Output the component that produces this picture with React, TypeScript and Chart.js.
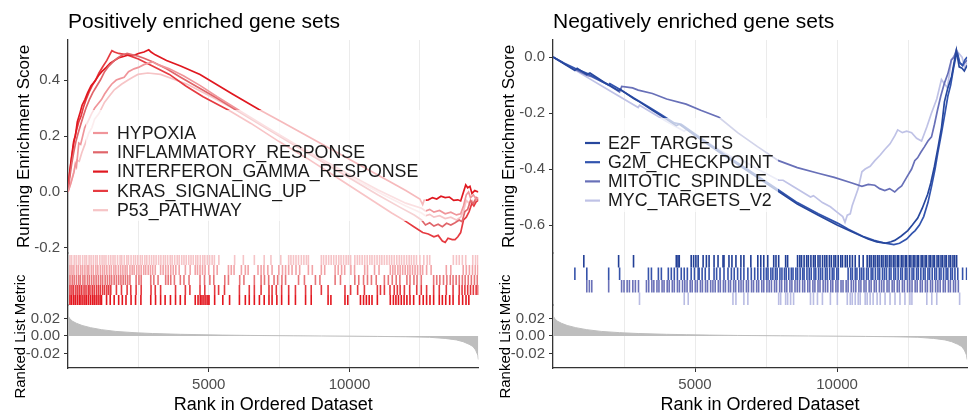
import React, { useEffect, useRef } from "react";
import { Chart, registerables } from "chart.js";

Chart.register(...registerables);

const FONT = "'Liberation Sans', Arial, Helvetica, sans-serif";

// ---------- shared axis data ----------
const X_MAX = 14580;
const X_GRID = [2500, 5000, 7500, 10000, 12500];
const X_LABELED = [5000, 10000];
const METRIC_TICKS = [-0.02, 0, 0.02];
const ES_TICKS_POS = [-0.2, 0, 0.2, 0.4];
const ES_TICKS_NEG = [-0.6, -0.4, -0.2, 0];

// ranked list metric [rank, value]
const METRIC: [number, number][] = [
  [0, 0.023], [60, 0.02], [150, 0.017], [300, 0.0145], [500, 0.012], [800, 0.0095],
  [1190, 0.0072], [1700, 0.0052], [2345, 0.0038], [3000, 0.0028], [4000, 0.0019],
  [4690, 0.0015], [5500, 0.001], [6500, 0.0006], [8000, 0.0002], [9000, 0.0],
  [10000, -0.0002], [11000, -0.0005], [12000, -0.0009], [12845, -0.0015],
  [13400, -0.0028], [13800, -0.0045], [14035, -0.0065], [14250, -0.0095],
  [14385, -0.012], [14480, -0.016], [14560, -0.022], [14580, -0.027],
];

// ---------- positively enriched sets ----------
const POS_NAMES = ["HYPOXIA", "INFLAMMATORY_RESPONSE", "INTERFERON_GAMMA_RESPONSE", "KRAS_SIGNALING_UP", "P53_PATHWAY"];
const POS_COLORS = ["#F0959A", "#E0666B", "#E01820", "#E63B41", "#F6C4C6"];

const ES_HYPOXIA: [number, number][] = [
  [0, 0], [100, 0.03], [210, 0.07], [260, 0.1], [300, 0.09], [385, 0.175], [450, 0.17], [595, 0.23],
  [700, 0.25], [840, 0.28], [950, 0.3], [1190, 0.33], [1300, 0.35], [1435, 0.37], [1550, 0.385],
  [1715, 0.4], [1850, 0.405], [1995, 0.41], [2150, 0.43], [2345, 0.44], [2500, 0.445], [2695, 0.455],
  [2850, 0.46], [3010, 0.465], [3200, 0.455], [3600, 0.44], [4100, 0.415], [4700, 0.38], [5300, 0.34],
  [6100, 0.29], [7000, 0.235], [8000, 0.175], [9000, 0.118], [10000, 0.062], [11000, 0.008],
  [12000, -0.04], [12560, -0.058], [12700, -0.068], [12850, -0.062], [13000, -0.072], [13200, -0.066],
  [13400, -0.078], [13600, -0.072], [13800, -0.082], [13950, -0.078], [14050, -0.05], [14150, -0.01],
  [14230, 0.0], [14300, -0.02], [14400, -0.01], [14500, -0.025], [14580, -0.02],
];
const ES_INFLAMMATORY: [number, number][] = [
  [0, 0], [60, 0.05], [130, 0.1], [200, 0.14], [280, 0.18], [360, 0.21], [450, 0.24], [540, 0.27],
  [640, 0.3], [760, 0.33], [880, 0.355], [1000, 0.375], [1150, 0.4], [1300, 0.43], [1450, 0.45],
  [1600, 0.465], [1750, 0.478], [1900, 0.488], [2100, 0.495], [2300, 0.49], [2500, 0.485],
  [2700, 0.478], [3000, 0.465], [3500, 0.44], [4000, 0.41], [4600, 0.375], [5300, 0.335],
  [6100, 0.285], [7000, 0.23], [8000, 0.17], [9000, 0.11], [10000, 0.05], [11000, -0.01],
  [11800, -0.055], [12300, -0.082], [12560, -0.1], [12700, -0.118], [12850, -0.11], [13000, -0.122],
  [13150, -0.115], [13300, -0.124], [13450, -0.112], [13600, -0.118], [13750, -0.11], [13900, -0.1],
  [14000, -0.106], [14100, -0.07], [14200, -0.062], [14300, -0.03], [14400, -0.042], [14500, -0.02],
  [14580, -0.03],
];
const ES_INTERFERON: [number, number][] = [
  [0, 0], [60, 0.07], [120, 0.12], [200, 0.18], [260, 0.2], [330, 0.25], [420, 0.28], [500, 0.31],
  [600, 0.33], [700, 0.355], [820, 0.38], [950, 0.395], [1080, 0.415], [1200, 0.43], [1360, 0.445],
  [1500, 0.46], [1650, 0.47], [1820, 0.48], [2000, 0.485], [2150, 0.49], [2350, 0.488], [2500, 0.495],
  [2700, 0.5], [2870, 0.508], [2950, 0.5], [3100, 0.49], [3500, 0.47], [4000, 0.45], [4690, 0.42],
  [5840, 0.35], [6785, 0.295], [7600, 0.25], [8500, 0.2], [9400, 0.15], [10300, 0.1], [11200, 0.05],
  [12000, 0.005], [12500, -0.025], [12600, -0.045], [12650, -0.03], [12800, -0.028], [12950, -0.02],
  [13100, -0.025], [13250, -0.015], [13400, -0.02], [13550, -0.018], [13700, -0.03], [13850, -0.028],
  [13950, -0.032], [14050, 0.0], [14130, 0.025], [14200, 0.015], [14280, 0.02], [14350, -0.005],
  [14450, 0.005], [14580, 0.0],
];
const ES_KRAS: [number, number][] = [
  [0, 0], [50, 0.06], [100, 0.1], [170, 0.15], [230, 0.19], [300, 0.22], [380, 0.25], [460, 0.27],
  [540, 0.3], [640, 0.33], [740, 0.355], [860, 0.38], [980, 0.4], [1100, 0.425], [1250, 0.45],
  [1380, 0.47], [1480, 0.49], [1560, 0.505], [1650, 0.5], [1800, 0.495], [2100, 0.49], [2500, 0.475],
  [3000, 0.45], [3600, 0.42], [4200, 0.378], [4800, 0.34], [5740, 0.29], [6500, 0.245], [7500, 0.18],
  [8500, 0.12], [9500, 0.055], [10500, -0.01], [11500, -0.075], [12000, -0.105], [12300, -0.125],
  [12600, -0.145], [12800, -0.15], [13000, -0.16], [13150, -0.155], [13300, -0.175], [13400, -0.18],
  [13500, -0.165], [13650, -0.17], [13750, -0.17], [13850, -0.16], [13950, -0.145], [14050, -0.1],
  [14150, -0.09], [14250, -0.07], [14350, -0.04], [14420, -0.05], [14500, -0.035], [14580, -0.03],
];
const ES_P53: [number, number][] = [
  [0, 0], [150, 0.05], [315, 0.114], [400, 0.11], [490, 0.14], [600, 0.17], [735, 0.21], [850, 0.23],
  [945, 0.26], [1100, 0.28], [1295, 0.32], [1450, 0.34], [1645, 0.365], [1900, 0.385], [2135, 0.4],
  [2300, 0.41], [2485, 0.42], [2835, 0.425], [3290, 0.42], [4235, 0.385], [5200, 0.335], [6200, 0.28],
  [7200, 0.22], [8200, 0.16], [9200, 0.1], [10200, 0.045], [11200, -0.01], [12000, -0.05],
  [12560, -0.075], [12700, -0.085], [12850, -0.08], [13000, -0.09], [13200, -0.085], [13400, -0.095],
  [13600, -0.09], [13800, -0.1], [13950, -0.09], [14050, -0.07], [14150, -0.03], [14250, -0.04],
  [14350, -0.03], [14450, -0.04], [14580, -0.02],
];

// hit positions (ranks), one list per row
const HITS_P53 = [70, 130, 220, 290, 370, 430, 520, 600, 660, 750, 820, 900, 980, 1040, 1130, 1210, 1280, 1350, 1440, 1520, 1600, 1670, 1760, 1850, 1910, 2000, 2090, 2150, 2240, 2330, 2400, 2480, 2570, 2640, 2730, 2800, 2890, 2970, 3050, 3130, 3220, 3300, 3390, 3460, 3540, 3630, 3700, 3790, 3880, 3950, 4040, 4120, 4200, 4290, 4370, 4450, 4540, 4610, 4700, 4790, 4860, 4950, 5030, 5120, 5200, 5360, 5920, 6230, 6620, 6970, 7210, 7560, 7840, 7920, 8010, 8100, 8190, 8290, 8380, 8470, 8540, 9000, 9080, 9170, 9260, 9350, 9440, 9530, 9620, 9700, 9790, 9880, 9960, 10040, 10190, 10280, 10360, 10450, 10540, 10630, 10720, 10800, 10890, 10980, 11070, 11150, 11240, 11330, 11420, 11500, 11590, 11680, 11770, 11850, 11940, 12030, 12120, 12200, 12290, 12380, 12500, 12640, 12760, 12850, 13690, 13800, 13900, 14010, 14130, 14380, 14480, 14560];
const HITS_HYPOXIA = [70, 140, 210, 300, 370, 450, 520, 600, 680, 740, 830, 900, 990, 1060, 1150, 1230, 1300, 1380, 1470, 1540, 1630, 1700, 1790, 1870, 1950, 2030, 2100, 2200, 2280, 2350, 2440, 2520, 2600, 2690, 2760, 2850, 2930, 3010, 3100, 3290, 3380, 3470, 3560, 3650, 3740, 3830, 3950, 4170, 4340, 4520, 4600, 4690, 4780, 4870, 5000, 5180, 5300, 5700, 5800, 5900, 6160, 6300, 6400, 6750, 6860, 6960, 7100, 7250, 7490, 7620, 7730, 7840, 7960, 8100, 8230, 8540, 8680, 9000, 9120, 9490, 9600, 9720, 9830, 10050, 10180, 10540, 10640, 10890, 11050, 11450, 11540, 11620, 11720, 11800, 11890, 11980, 12070, 12150, 12240, 12330, 12420, 12520, 12600, 12740, 12900, 13440, 13600, 14040, 14150, 14260, 14370, 14470, 14560];
const HITS_INFLAMMATORY = [70, 150, 220, 300, 380, 440, 530, 600, 690, 760, 840, 920, 1000, 1080, 1160, 1230, 1320, 1400, 1480, 1550, 1640, 1720, 1800, 1880, 1960, 2040, 2120, 2200, 2420, 2520, 2600, 2940, 3050, 3200, 3470, 3560, 3650, 3780, 3990, 4120, 4300, 4690, 4850, 5040, 5180, 5570, 5700, 6100, 6250, 6620, 6860, 6980, 7130, 7320, 7450, 7600, 7730, 8190, 8400, 8790, 8950, 9490, 9680, 10190, 10330, 10500, 10640, 10780, 10950, 11240, 11380, 11520, 11660, 11790, 12040, 12150, 12290, 12400, 12550, 12990, 13100, 13210, 13340, 13460, 13580, 13680, 13790, 13900, 14010, 14110, 14220, 14330, 14440, 14540];
const HITS_KRAS = [70, 140, 200, 280, 350, 420, 490, 570, 640, 720, 780, 860, 930, 1010, 1080, 1150, 1230, 1300, 1380, 1450, 1520, 1720, 1900, 2100, 2230, 2420, 2600, 2950, 3100, 3290, 3820, 4170, 4330, 4690, 4860, 5210, 5350, 5560, 6090, 6440, 6620, 6860, 7140, 7250, 7400, 7590, 7840, 8080, 8440, 8640, 9000, 9240, 9840, 10040, 10290, 10530, 10990, 11100, 11240, 11440, 11590, 11700, 11800, 11950, 12140, 12390, 12550, 12740, 12990, 13190, 13440, 13680, 13900, 14000, 14100, 14200, 14300, 14400, 14500, 14570];
const HITS_INTERFERON = [70, 130, 200, 260, 330, 400, 460, 530, 600, 660, 730, 800, 870, 930, 1000, 1070, 1140, 1190, 1370, 1500, 1640, 1800, 1930, 2060, 2240, 2400, 2590, 2940, 3110, 3290, 3450, 3640, 3820, 3990, 4160, 4520, 4620, 4700, 4760, 4830, 4900, 4970, 5010, 5210, 5500, 5740, 6090, 6300, 6440, 6620, 6800, 6970, 7140, 7250, 7420, 7590, 7840, 8080, 8440, 8640, 9240, 9340, 9840, 9940, 10390, 10500, 10600, 10700, 10800, 10990, 11450, 11560, 11650, 11740, 11840, 11940, 12040, 12150, 12280, 12490, 12620, 12740, 12860, 12990, 13190, 13300, 13420, 13560, 13680, 13890, 14020, 14140, 14240];

// ---------- negatively enriched sets ----------
const NEG_NAMES = ["E2F_TARGETS", "G2M_CHECKPOINT", "MITOTIC_SPINDLE", "MYC_TARGETS_V2"];
const NEG_COLORS = ["#27479D", "#3254AE", "#6870B8", "#BFC2E6"];

const ES_E2F: [number, number][] = [
  [0, 0], [400, -0.025], [770, -0.048], [850, -0.04], [1190, -0.062], [1300, -0.057], [1800, -0.09],
  [2310, -0.12], [2360, -0.115], [2840, -0.148], [3045, -0.16], [3500, -0.19], [3810, -0.21],
  [4340, -0.245], [4450, -0.24], [5000, -0.28], [5500, -0.315], [6000, -0.35], [6600, -0.39],
  [7200, -0.43], [7940, -0.48], [8600, -0.525], [9340, -0.565], [10000, -0.6], [10540, -0.625],
  [11090, -0.65], [11400, -0.66], [11690, -0.665], [11900, -0.66], [12030, -0.655], [12250, -0.64],
  [12490, -0.62], [12650, -0.6], [12840, -0.575], [13000, -0.54], [13190, -0.49], [13300, -0.45],
  [13430, -0.39], [13560, -0.32], [13680, -0.25], [13780, -0.16], [13900, -0.11], [14030, -0.07],
  [14120, -0.02], [14200, 0.025], [14300, -0.035], [14400, -0.04], [14480, -0.05], [14580, -0.03],
];
const ES_G2M: [number, number][] = [
  [0, 0], [400, -0.022], [770, -0.04], [1190, -0.058], [1960, -0.1], [2000, -0.095], [2345, -0.115],
  [2900, -0.15], [3400, -0.18], [3800, -0.205], [4270, -0.235], [4515, -0.24], [5000, -0.275],
  [5500, -0.31], [6000, -0.345], [6600, -0.385], [7200, -0.425], [7940, -0.475], [8600, -0.52],
  [9340, -0.56], [10050, -0.595], [10400, -0.615], [10900, -0.64], [11300, -0.655], [11700, -0.665],
  [12000, -0.67], [12200, -0.665], [12450, -0.65], [12640, -0.63], [12750, -0.62], [12900, -0.6],
  [13050, -0.57], [13200, -0.52], [13330, -0.46], [13450, -0.4], [13550, -0.34], [13680, -0.27],
  [13800, -0.2], [13900, -0.14], [14000, -0.1], [14100, -0.04], [14180, 0.0], [14250, 0.01],
  [14320, -0.02], [14420, -0.03], [14500, -0.01], [14580, 0.0],
];
const ES_MITOTIC: [number, number][] = [
  [0, 0], [600, -0.035], [1190, -0.065], [1365, -0.07], [1960, -0.1], [2343, -0.125], [2420, -0.105],
  [2800, -0.11], [3000, -0.118], [3500, -0.13], [4000, -0.15], [4686, -0.168], [5200, -0.19],
  [5840, -0.215], [6500, -0.27], [7200, -0.32], [7938, -0.37], [8600, -0.395], [9337, -0.415],
  [9900, -0.43], [10525, -0.45], [10875, -0.462], [11100, -0.455], [11330, -0.458], [11500, -0.47],
  [11680, -0.477], [11850, -0.47], [12030, -0.482], [12150, -0.47], [12275, -0.46], [12450, -0.43],
  [12625, -0.4], [12735, -0.37], [12835, -0.36], [12950, -0.34], [13080, -0.32], [13200, -0.3],
  [13325, -0.285], [13430, -0.24], [13535, -0.19], [13650, -0.14], [13780, -0.093], [13900, -0.06],
  [14025, -0.01], [14120, 0.0], [14200, 0.025], [14300, -0.02], [14420, -0.03], [14580, -0.01],
];
const ES_MYC: [number, number][] = [
  [0, 0], [1000, -0.06], [2000, -0.12], [3000, -0.18], [3045, -0.172], [4000, -0.23], [4620, -0.265],
  [4700, -0.258], [5500, -0.31], [6335, -0.36], [6450, -0.355], [6860, -0.38], [7200, -0.4],
  [7945, -0.44], [8100, -0.44], [8500, -0.465], [9065, -0.5], [9170, -0.495], [9485, -0.52],
  [9765, -0.535], [10010, -0.555], [10200, -0.57], [10280, -0.59], [10360, -0.565], [10465, -0.56],
  [10535, -0.53], [10640, -0.5], [10745, -0.47], [10875, -0.41], [10990, -0.4], [11165, -0.39],
  [11330, -0.37], [11520, -0.35], [11680, -0.33], [11865, -0.31], [12040, -0.28], [12135, -0.26],
  [12300, -0.27], [12450, -0.265], [12625, -0.27], [12800, -0.29], [12975, -0.3], [13160, -0.25],
  [13325, -0.2], [13510, -0.15], [13675, -0.08], [13885, -0.11], [14025, -0.01], [14230, 0.02],
  [14400, 0.0], [14450, -0.02], [14500, -0.04], [14580, -0.02],
];

const HITS_E2F = [1085, 2310, 2835, 4340, 4400, 4445, 4865, 4950, 5030, 5110, 5285, 5400, 5495, 5670, 5810, 5985, 6020, 6195, 6300, 6440, 6615, 6720, 6965, 7210, 7315, 7420, 7560, 7770, 7850, 7945, 8190, 8260, 8610, 8690, 8750, 8840, 8930, 8990, 9080, 9170, 9230, 9330, 9400, 9490, 9570, 9640, 9730, 9800, 9890, 9950, 10040, 10130, 10190, 10290, 10360, 10450, 10540, 10640, 10780, 10920, 11060, 11140, 11200, 11280, 11340, 11420, 11480, 11560, 11620, 11700, 11760, 11840, 11900, 11980, 12040, 12120, 12170, 12260, 12320, 12400, 12450, 12540, 12600, 12680, 12740, 12820, 12870, 12960, 13020, 13100, 13150, 13240, 13300, 13380, 13430, 13520, 13580, 13660, 13720, 13800, 13850, 13940, 14000, 14080, 14140, 14210];
const HITS_G2M = [770, 1190, 1960, 2345, 3360, 3465, 3710, 3815, 4060, 4165, 4270, 4380, 4515, 4620, 4730, 4865, 4980, 5110, 5145, 5250, 5360, 5495, 5670, 5760, 5880, 6020, 6160, 6280, 6380, 6500, 6610, 6720, 6860, 6980, 7100, 7210, 7315, 7420, 7510, 7570, 7670, 7740, 7830, 7890, 7990, 8060, 8150, 8210, 8300, 8390, 8450, 8550, 8610, 8700, 8790, 8840, 8940, 9020, 9090, 9190, 9250, 9350, 9420, 9490, 9590, 9650, 9740, 9830, 9890, 9990, 10045, 10390, 10480, 10540, 10640, 10700, 10800, 10870, 10940, 11040, 11100, 11200, 11260, 11350, 11440, 11500, 11600, 11670, 11740, 11840, 11900, 12000, 12060, 12150, 12240, 12300, 12400, 12460, 12550, 12640, 12700, 12800, 12860, 12950, 13040, 13100, 13200, 13260, 13350, 13440, 13500, 13600, 13660, 13750, 13840, 13900, 14000, 14060, 14150, 14250, 14420, 14560];
const HITS_MITOTIC = [1190, 1280, 1365, 1960, 2415, 2500, 2610, 2690, 2810, 2900, 3010, 3290, 3370, 3480, 3550, 3660, 3730, 3840, 3910, 4020, 4090, 4200, 4270, 4380, 4450, 4560, 4640, 4720, 4830, 4900, 5010, 5080, 5190, 5260, 5370, 5440, 5550, 5630, 5710, 5820, 5890, 6000, 6070, 6180, 6250, 6360, 6430, 6540, 6620, 6700, 6810, 6880, 6990, 7060, 7170, 7240, 7350, 7420, 7530, 7610, 7690, 7800, 7870, 7980, 8050, 8160, 8230, 8340, 8410, 8520, 8600, 8680, 8790, 8860, 8970, 9040, 9150, 9220, 9330, 9400, 9510, 9590, 9670, 9780, 9850, 9960, 10030, 10140, 10210, 10320, 10390, 10500, 10580, 10660, 10770, 10840, 10950, 11020, 11130, 11200, 11310, 11380, 11490, 11570, 11650, 11760, 11830, 11940, 12010, 12120, 12190, 12300, 12370, 12480, 12560, 12640, 12750, 12820, 12930, 13000, 13110, 13180, 13290, 13360, 13470, 13550, 13630, 13740, 13810, 13920, 13990, 14100, 14170, 14270];
const HITS_MYC = [3045, 4620, 4760, 6335, 6440, 6720, 6860, 7945, 8015, 8190, 8260, 8365, 8470, 9065, 9170, 9310, 9485, 9765, 10010, 10360, 10465, 10535, 10640, 10745, 10815, 10990, 11060, 11165, 11270, 11410, 11520, 11690, 11865, 12040, 12215, 12390, 12565, 12635, 13160, 13335, 13510, 14315];

type Pair = [number, number];
interface SetSpec { name: string; color: string; es: Pair[]; hits: number[]; row: number; hitColor: string; }
interface PanelSpec {
  title: string; sets: SetSpec[]; esMin: number; esMax: number; esTicks: number[];
  hitMax: number; hitRadius: number; padRight: number;
  legend: { x: number; y: number; w: number; h: number; keyX: number; keyW: number; textX: number; firstY: number; rowH: number; size: number };
}

const toXY = (pairs: Pair[]) => pairs.map(([x, y]) => ({ x, y }));

const POS_PANEL: PanelSpec = {
  title: "Positively enriched gene sets",
  sets: [
    { name: POS_NAMES[0], color: POS_COLORS[0], es: ES_HYPOXIA, hits: HITS_HYPOXIA, row: 3.5, hitColor: "#F2A3A7" },
    { name: POS_NAMES[1], color: POS_COLORS[1], es: ES_INFLAMMATORY, hits: HITS_INFLAMMATORY, row: 2.5, hitColor: "#E8767A" },
    { name: POS_NAMES[2], color: POS_COLORS[2], es: ES_INTERFERON, hits: HITS_INTERFERON, row: 0.5, hitColor: "#E3161E" },
    { name: POS_NAMES[3], color: POS_COLORS[3], es: ES_KRAS, hits: HITS_KRAS, row: 1.5, hitColor: "#E5393F" },
    { name: POS_NAMES[4], color: POS_COLORS[4], es: ES_P53, hits: HITS_P53, row: 4.5, hitColor: "#F6C4C7" },
  ],
  esMin: -0.218, esMax: 0.543, esTicks: ES_TICKS_POS,
  hitMax: 5.2, hitRadius: 5, padRight: 2,
  legend: { x: 86, y: 110, w: 340, h: 111, keyX: 93, keyW: 15, textX: 117, firstY: 133, rowH: 19.3, size: 17.8 },
};

const NEG_PANEL: PanelSpec = {
  title: "Negatively enriched gene sets",
  sets: [
    { name: NEG_NAMES[0], color: NEG_COLORS[0], es: ES_E2F, hits: HITS_E2F, row: 3.5, hitColor: "#223F96" },
    { name: NEG_NAMES[1], color: NEG_COLORS[1], es: ES_G2M, hits: HITS_G2M, row: 2.5, hitColor: "#3653AA" },
    { name: NEG_NAMES[2], color: NEG_COLORS[2], es: ES_MITOTIC, hits: HITS_MITOTIC, row: 1.5, hitColor: "#6A71B8" },
    { name: NEG_NAMES[3], color: NEG_COLORS[3], es: ES_MYC, hits: HITS_MYC, row: 0.5, hitColor: "#B9BCE3" },
  ],
  esMin: -0.7, esMax: 0.061, esTicks: ES_TICKS_NEG,
  hitMax: 4.16, hitRadius: 6.25, padRight: 7,
  legend: { x: 93, y: 118, w: 200, h: 94, keyX: 100, keyW: 15, textX: 123, firstY: 143, rowH: 19.2, size: 17.8 },
};

const decorPlugin = {
  id: "panelDecor",
  afterDatasetsDraw(chart: any, _args: any, opts: any) {
    const ctx = chart.ctx;
    const lg = opts.legend;
    ctx.save();
    ctx.fillStyle = "rgba(255,255,255,0.7)";
    ctx.fillRect(lg.x, lg.y, lg.w, lg.h);
    ctx.font = `${lg.size}px ${FONT}`;
    ctx.textBaseline = "middle";
    ctx.textAlign = "left";
    const items = chart.data.datasets.filter((d: any) => d.yAxisID === "yES");
    items.forEach((d: any, i: number) => {
      const y = lg.firstY + i * lg.rowH;
      ctx.strokeStyle = d.borderColor;
      ctx.lineWidth = 2.2;
      ctx.beginPath();
      ctx.moveTo(lg.keyX, y);
      ctx.lineTo(lg.keyX + lg.keyW, y);
      ctx.stroke();
      ctx.fillStyle = "#1A1A1A";
      ctx.fillText(d.label, lg.textX, y + 1);
    });
    ctx.fillStyle = "#000";
    ctx.font = `21px ${FONT}`;
    ctx.fillText(opts.title, chart.chartArea.left, opts.titleY);
    ctx.restore();
  },
};

function buildConfig(p: PanelSpec): any {
  const esSets = p.sets.map((s) => ({
    type: "line", label: s.name, data: toXY(s.es), borderColor: s.color, backgroundColor: s.color,
    borderWidth: 1.7, pointRadius: 0, fill: false, tension: 0, yAxisID: "yES", xAxisID: "x",
  }));
  const hitSets = p.sets.map((s) => ({
    type: "line", label: s.name + " hits", data: s.hits.map((r) => ({ x: r, y: s.row })), showLine: false,
    pointStyle: "line", pointRotation: 90, pointRadius: p.hitRadius, pointBorderColor: s.hitColor,
    pointBorderWidth: 1.6, borderColor: s.hitColor, yAxisID: "yHit", xAxisID: "x",
  }));
  const metric = {
    type: "line", label: "metric", data: toXY(METRIC), borderColor: "#BEBEBE", backgroundColor: "#BEBEBE",
    borderWidth: 1, pointRadius: 0, fill: "origin", tension: 0, yAxisID: "yM", xAxisID: "x",
  };
  const tickFont = { family: FONT, size: 15 };
  return {
    type: "line",
    data: { datasets: [...esSets, ...hitSets, metric] },
    plugins: [decorPlugin],
    options: {
      responsive: false, animation: false, devicePixelRatio: 1, events: [],
      layout: { padding: { top: 40, left: 0, right: p.padRight, bottom: 0 } },
      plugins: {
        legend: { display: false }, tooltip: { enabled: false },
        panelDecor: { legend: p.legend, title: p.title, titleY: 22 },
      },
      scales: {
        x: {
          type: "linear", position: "bottom", min: 0, max: X_MAX,
          afterBuildTicks: (s: any) => { s.ticks = X_GRID.map((v) => ({ value: v })); },
          afterFit: (s: any) => { s.height = 49; },
          grid: {
            color: "#EBEBEB", lineWidth: 1, drawTicks: true, tickLength: 4,
            tickColor: (c: any) => (c.tick && X_LABELED.includes(c.tick.value) ? "#333" : "rgba(0,0,0,0)"),
          },
          border: { display: true, color: "#333", width: 1.3 },
          ticks: {
            color: "#4D4D4D", font: tickFont, padding: 4, maxRotation: 0, autoSkip: false,
            callback: (v: any) => (X_LABELED.includes(v) ? String(v) : ""),
          },
          title: { display: true, text: "Rank in Ordered Dataset", color: "#000", font: { family: FONT, size: 18 }, padding: { top: 0, bottom: 1 } },
        },
        yES: {
          type: "linear", position: "left", stack: "panel", stackWeight: 213, weight: 3,
          min: p.esMin, max: p.esMax,
          afterBuildTicks: (s: any) => { s.ticks = p.esTicks.map((v) => ({ value: v })); },
          afterFit: (s: any) => { s.width = 68; },
          grid: { drawOnChartArea: false, drawTicks: true, tickLength: 4, tickColor: "#333" },
          border: { display: true, color: "#333", width: 1.3 },
          ticks: { color: "#4D4D4D", font: tickFont, padding: 4, autoSkip: false, callback: (v: any) => Number(v).toFixed(1) },
          title: { display: true, text: "Running Enrichment Score", color: "#000", font: { family: FONT, size: 17 }, padding: { top: 14, bottom: 0 } },
        },
        yHit: {
          type: "linear", position: "left", stack: "panel", stackWeight: 52, weight: 2,
          min: 0, max: p.hitMax,
          afterFit: (s: any) => { s.width = 68; },
          grid: { display: false, drawOnChartArea: false, drawTicks: false },
          border: { display: true, color: "#333", width: 1.3 },
          ticks: { display: false },
        },
        yM: {
          type: "linear", position: "left", stack: "panel", stackWeight: 63, weight: 1,
          min: -0.0366, max: 0.0354,
          afterBuildTicks: (s: any) => { s.ticks = METRIC_TICKS.map((v) => ({ value: v })); },
          afterFit: (s: any) => { s.width = 68; },
          grid: { drawOnChartArea: false, drawTicks: true, tickLength: 4, tickColor: "#333" },
          border: { display: true, color: "#333", width: 1.3 },
          ticks: { color: "#4D4D4D", font: tickFont, padding: 4, autoSkip: false, callback: (v: any) => Number(v).toFixed(2) },
          title: { display: true, text: "Ranked List Metric", color: "#000", font: { family: FONT, size: 15 }, padding: { top: 12, bottom: 0 } },
        },
      },
    },
  };
}

export default function App() {
  const leftRef = useRef<HTMLCanvasElement | null>(null);
  const rightRef = useRef<HTMLCanvasElement | null>(null);
  useEffect(() => {
    const c1 = new Chart(leftRef.current as HTMLCanvasElement, buildConfig(POS_PANEL));
    const c2 = new Chart(rightRef.current as HTMLCanvasElement, buildConfig(NEG_PANEL));
    return () => { c1.destroy(); c2.destroy(); };
  }, []);
  return (
    <div style={{ position: "absolute", left: 0, top: 0, width: 975, height: 417, background: "#fff", overflow: "hidden" }}>
      <canvas ref={leftRef} width={485} height={417} style={{ position: "absolute", left: 0, top: 0 }} />
      <canvas ref={rightRef} width={490} height={417} style={{ position: "absolute", left: 485, top: 0 }} />
    </div>
  );
}
